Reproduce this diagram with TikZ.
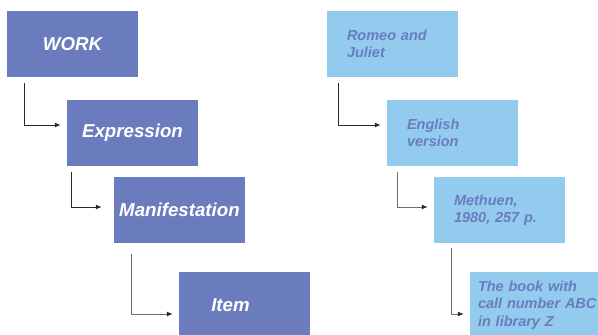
\documentclass[tikz,border=0pt]{standalone}
\usepackage{fontspec}
\setmainfont{Liberation Sans}
\usepackage{tikz}
\usetikzlibrary{arrows.meta}
\usepackage{xcolor}
\definecolor{ColDark}{RGB}{107,124,190}
\definecolor{ColLight}{RGB}{147,203,238}
\definecolor{ColLine}{RGB}{40,40,40}
\definecolor{ColGrey}{RGB}{110,110,110}
\tikzstyle{BoxDark}=[rectangle,fill=ColDark,minimum width=131pt,minimum height=66pt,
inner sep=0pt,text=white,font=\fontsize{18.7}{22}\selectfont\bfseries\itshape]
\tikzstyle{BoxLight}=[rectangle,fill=ColLight,minimum width=131pt,minimum height=66pt,
inner xsep=20pt,inner ysep=0pt,text width=91pt,align=left,text=ColDark,
font=\fontsize{14.5}{17.5}\selectfont\bfseries\itshape]
\tikzstyle{LinkArrow}=[ColLine,line width=1pt,-{Latex[length=6pt,width=5pt,color=ColLine]}]
\tikzstyle{LinkGrey}=[LinkArrow,draw=ColGrey]

\begin{document}
\begin{tikzpicture}[x=1pt,y=-1pt]
        \clip(0,0)rectangle(598,335);
        % levels of the model
        \node[BoxDark](work)at(72.5,44){WORK};
        \node[BoxDark](expr)at(132.5,133){Expression};
        \node[BoxDark](manif)at(179.5,210){Manifestation};
        \node[BoxDark](item)at(244.5,305){\hspace*{-28pt}Item};
        % the example
        \node[BoxLight](romeo)at(392.5,44){Romeo and\\Juliet};
        \node[BoxLight](engl)at(452.5,133){English\\version};
        \node[BoxLight](meth)at(499.5,210){Methuen,\\1980, 257 p.};
        \node[BoxLight,inner xsep=8pt,text width=124pt](book)at(540,305){The book with\\call number ABC\\in library Z};
        % connectors
        \coordinate(w0)at([xshift=18pt,yshift=-6pt]work.south west);
        \coordinate(e0)at([xshift=-6pt,yshift=8pt]expr.west);
        \coordinate(e1)at([xshift=5pt,yshift=-6pt]expr.south west);
        \coordinate(m0)at([xshift=-12pt,yshift=3pt]manif.west);
        \coordinate(m1)at([xshift=18pt,yshift=-11pt]manif.south west);
        \coordinate(i0)at([xshift=-6pt,yshift=-9pt]item.west);
        \coordinate(r0)at([xshift=12pt,yshift=-6pt]romeo.south west);
        \coordinate(g0)at([xshift=-6pt,yshift=8pt]engl.west);
        \coordinate(g1)at([xshift=11pt,yshift=-6pt]engl.south west);
        \coordinate(t0)at([xshift=-6pt,yshift=3pt]meth.west);
        \coordinate(t1)at([xshift=18pt,yshift=-5pt]meth.south west);
        \coordinate(b0)at([xshift=-6pt,yshift=-9pt]book.west);
        \draw[LinkArrow](w0)|-(e0);
        \draw[LinkArrow](e1)|-(m0);
        \draw[LinkGrey](m1)|-(i0);
        \draw[LinkArrow](r0)|-(g0);
        \draw[LinkGrey](g1)|-(t0);
        \draw[LinkGrey](t1)|-(b0);
    \end{tikzpicture}
\end{document}
